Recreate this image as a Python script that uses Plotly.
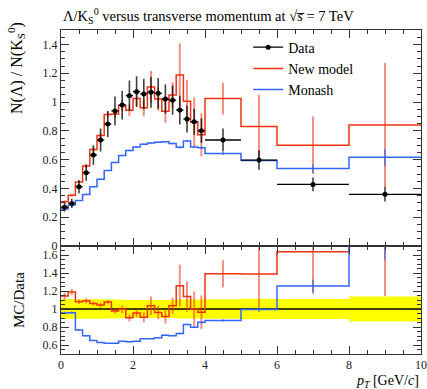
import plotly.graph_objects as go

# ---- data ----
edges = [0.0, 0.2, 0.4, 0.6, 0.8, 1.0, 1.2, 1.4, 1.6, 1.8, 2.0, 2.2, 2.4, 2.6, 2.8,
         3.0, 3.2, 3.4, 3.6, 3.8, 4.0, 5.0, 6.0, 8.0, 10.0]
data_vals = [0.269, 0.296, 0.412, 0.509, 0.632, 0.736, 0.847, 0.938, 0.979, 1.044,
             1.072, 1.056, 1.067, 1.060, 1.021, 1.012, 0.944, 0.882, 0.863, 0.801,
             0.736, 0.597, 0.428, 0.359]
data_err = [0.030, 0.032, 0.045, 0.055, 0.068, 0.080, 0.090, 0.100, 0.100, 0.105,
            0.107, 0.106, 0.107, 0.106, 0.102, 0.101, 0.100, 0.093, 0.090, 0.085,
            0.080, 0.068, 0.048, 0.050]
new_model = [0.308, 0.352, 0.445, 0.555, 0.670, 0.768, 0.913, 0.917, 0.975, 0.942,
             1.025, 0.960, 1.105, 1.020, 0.935, 1.048, 1.188, 1.005, 0.862, 0.772,
             1.024, 0.830, 0.700, 0.840]
new_model_err = [0.010, 0.010, 0.010, 0.015, 0.015, 0.020, 0.020, 0.025, 0.040, 0.040,
                 0.050, 0.060, 0.110, 0.080, 0.080, 0.090, 0.220, 0.150, 0.170, 0.150,
                 0.110, 0.220, 0.200, 0.430]
monash = [0.257, 0.284, 0.316, 0.358, 0.411, 0.463, 0.524, 0.580, 0.628, 0.663,
          0.687, 0.707, 0.715, 0.721, 0.724, 0.712, 0.686, 0.730, 0.688, 0.682,
          0.642, 0.594, 0.538, 0.616]
monash_err = [0.004, 0.004, 0.004, 0.004, 0.004, 0.004, 0.004, 0.004, 0.005, 0.005,
              0.005, 0.005, 0.006, 0.006, 0.006, 0.007, 0.008, 0.008, 0.009, 0.010,
              0.010, 0.015, 0.030, 0.060]

upper_ticks = [0, 0.2, 0.4, 0.6, 0.8, 1.0, 1.2, 1.4]
upper_ticktext = ["0", "0.2", "0.4", "0.6", "0.8", "1", "1.2", "1.4"]
lower_ticks = [0.6, 0.8, 1.0, 1.2, 1.4, 1.6]
lower_ticktext = ["0.6", "0.8", "1", "1.2", "1.4", "1.6"]
x_ticks = [0, 2, 4, 6, 8, 10]
x_ticktext = ["0", "2", "4", "6", "8", "10"]

RED = "#ee3311"
BLUE = "#3366ff"
RED_ERR = "rgba(238,51,17,0.55)"
BLUE_ERR = "rgba(51,102,255,0.6)"
FONT = "Liberation Serif"

centers = [(a + b) / 2 for a, b in zip(edges[:-1], edges[1:])]
halfw = [(b - a) / 2 for a, b in zip(edges[:-1], edges[1:])]


def step(vals):
    return list(vals) + [vals[-1]]


ratio_new = [m / d for m, d in zip(new_model, data_vals)]
ratio_new_err = [e / d for e, d in zip(new_model_err, data_vals)]
ratio_mon = [m / d for m, d in zip(monash, data_vals)]
ratio_mon_err = [e / d for e, d in zip(monash_err, data_vals)]
band_lo = [1 - e / d for e, d in zip(data_err, data_vals)]
band_hi = [1 + e / d for e, d in zip(data_err, data_vals)]

fig = go.Figure()

# ---------- upper panel ----------
for vals, errs, ecol in [(new_model, new_model_err, RED_ERR), (monash, monash_err, BLUE_ERR)]:
    fig.add_trace(go.Scatter(x=centers, y=vals, mode="markers",
                             marker=dict(size=0.1, color=ecol, opacity=0),
                             error_y=dict(type="data", array=errs, color=ecol, thickness=2, width=0),
                             showlegend=False, hoverinfo="skip", xaxis="x", yaxis="y"))
for vals, col in [(new_model, RED), (monash, BLUE)]:
    fig.add_trace(go.Scatter(x=edges, y=step(vals), mode="lines", line_shape="hv",
                             line=dict(color=col, width=1.5),
                             showlegend=False, xaxis="x", yaxis="y"))

fig.add_trace(go.Scatter(x=centers, y=data_vals, mode="markers",
                         marker=dict(size=5, color="black"),
                         error_x=dict(type="data", array=halfw, color="black", thickness=1.3, width=0),
                         error_y=dict(type="data", array=data_err, color="rgba(0,0,0,0.75)", thickness=1.6, width=0),
                         showlegend=False, xaxis="x", yaxis="y"))

# legend entries
fig.add_trace(go.Scatter(x=[None], y=[None], mode="lines+markers", name="Data",
                         line=dict(color="black", width=1.3), marker=dict(size=5, color="black"),
                         xaxis="x", yaxis="y"))
fig.add_trace(go.Scatter(x=[None], y=[None], mode="lines", name="New model",
                         line=dict(color=RED, width=1.5), xaxis="x", yaxis="y"))
fig.add_trace(go.Scatter(x=[None], y=[None], mode="lines", name="Monash",
                         line=dict(color=BLUE, width=1.5), xaxis="x", yaxis="y"))

# ---------- lower panel ----------
fig.add_trace(go.Scatter(x=edges, y=step(band_lo), mode="lines", line_shape="hv",
                         line=dict(width=0, color="yellow"), showlegend=False,
                         hoverinfo="skip", xaxis="x2", yaxis="y2"))
fig.add_trace(go.Scatter(x=edges, y=step(band_hi), mode="lines", line_shape="hv",
                         line=dict(width=0, color="yellow"), fill="tonexty", fillcolor="#ffff00",
                         showlegend=False, hoverinfo="skip", xaxis="x2", yaxis="y2"))
fig.add_trace(go.Scatter(x=[edges[0], edges[-1]], y=[1, 1], mode="lines",
                         line=dict(color="black", width=1.3), showlegend=False,
                         xaxis="x2", yaxis="y2"))
for vals, errs, ecol in [(ratio_new, ratio_new_err, RED_ERR), (ratio_mon, ratio_mon_err, BLUE_ERR)]:
    fig.add_trace(go.Scatter(x=centers, y=vals, mode="markers",
                             marker=dict(size=0.1, color=ecol, opacity=0),
                             error_y=dict(type="data", array=errs, color=ecol, thickness=2, width=0),
                             showlegend=False, hoverinfo="skip", xaxis="x2", yaxis="y2"))
for vals, col in [(ratio_new, RED), (ratio_mon, BLUE)]:
    fig.add_trace(go.Scatter(x=edges, y=step(vals), mode="lines", line_shape="hv",
                             line=dict(color=col, width=1.5), showlegend=False,
                             xaxis="x2", yaxis="y2"))

axis_common = dict(showline=True, linecolor="#333333", linewidth=1, mirror="allticks",
                   ticks="inside", ticklen=8, tickcolor="#333333", tickwidth=1,
                   showgrid=False, zeroline=False, automargin=False,
                   tickfont=dict(family=FONT, size=12, color="#222222"))
minor_x = dict(dtick=0.5, tick0=0, ticklen=4, ticks="inside", tickcolor="#333333")
minor_y = dict(dtick=0.05, tick0=0, ticklen=4, ticks="inside", tickcolor="#333333")

fig.update_layout(
    width=427, height=389,
    margin=dict(l=61, r=6, t=30, b=35, autoexpand=False),
    paper_bgcolor="white", plot_bgcolor="white",
    font=dict(family=FONT, size=13, color="black"),
    xaxis=dict(domain=[0, 1], range=[0, 10], anchor="y", tickvals=x_ticks,
               showticklabels=False, minor=minor_x, **axis_common),
    yaxis=dict(domain=[0.3333, 1], range=[0, 1.5], anchor="x", tickvals=upper_ticks,
               ticktext=upper_ticktext, minor=minor_y, **axis_common),
    xaxis2=dict(domain=[0, 1], range=[0, 10], anchor="y2", matches="x", tickvals=x_ticks,
                ticktext=x_ticktext, minor=minor_x, **axis_common),
    yaxis2=dict(domain=[0, 0.3333], range=[0.5, 1.7], anchor="x2", tickvals=lower_ticks,
                ticktext=lower_ticktext, minor=minor_y, **axis_common),
    legend=dict(x=0.52, y=0.995, xanchor="left", yanchor="top", bgcolor="rgba(0,0,0,0)",
                font=dict(family=FONT, size=14), tracegroupgap=0, itemwidth=30,
                traceorder="normal"),
    showlegend=True,
)

fig.add_annotation(text="Λ/K<sub>S</sub><sup>0</sup> versus transverse momentum at √<i>s̅</i> = 7 TeV",
                   xref="paper", yref="paper", x=0, y=1, xanchor="left", yanchor="middle",
                   yshift=14, showarrow=False, font=dict(family=FONT, size=14.5))
fig.add_annotation(text="N(Λ) / N(K<sub>S</sub><sup>0</sup>)", textangle=-90,
                   xref="paper", yref="paper", x=0, y=1, xshift=-45, yshift=10,
                   xanchor="center", yanchor="top", showarrow=False,
                   font=dict(family=FONT, size=16))
fig.add_annotation(text="MC/Data", textangle=-90,
                   xref="paper", yref="paper", x=0, y=0.1667, xshift=-42,
                   xanchor="center", yanchor="middle", showarrow=False,
                   font=dict(family=FONT, size=15))
fig.add_annotation(text="<i>p<sub>T</sub></i> [GeV/<i>c</i>]",
                   xref="paper", yref="paper", x=1, y=0, yshift=-27,
                   xanchor="right", yanchor="middle", showarrow=False,
                   font=dict(family=FONT, size=14))

fig.write_html("out.html", config={"displayModeBar": False},
               post_script="document.body.style.margin='0';document.body.style.overflow='hidden';")
